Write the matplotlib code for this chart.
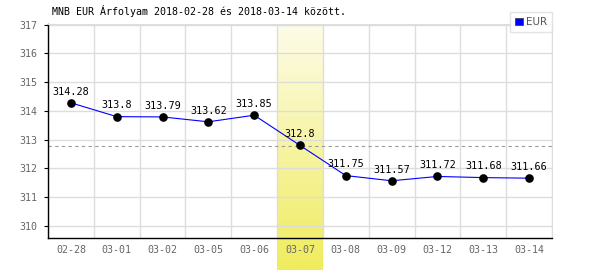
import matplotlib
matplotlib.use('Agg')
import matplotlib.pyplot as plt
import numpy as np
from matplotlib.colors import LinearSegmentedColormap

dates = ['02-28', '03-01', '03-02', '03-05', '03-06', '03-07',
         '03-08', '03-09', '03-12', '03-13', '03-14']
rates = [314.28, 313.8, 313.79, 313.62, 313.85, 312.8,
         311.75, 311.57, 311.72, 311.68, 311.66]
labels = ['314.28', '313.8', '313.79', '313.62', '313.85', '312.8',
          '311.75', '311.57', '311.72', '311.68', '311.66']
yticks = [310, 311, 312, 313, 314, 315, 316, 317]
highlight = 5

plt.rcParams['font.family'] = ['DejaVu Sans Mono']

fig = plt.figure(figsize=(6, 2.7), dpi=100)
ax = fig.add_axes([0.08, 0.1185, 0.84, 0.7925])
ax.set_facecolor('none')

ymin, ymax = 309.58, 317.02
x = np.arange(len(dates))

# yellow gradient band behind the highlighted day
grad = np.linspace(0, 1, 100).reshape(-1, 1)
cmap = LinearSegmentedColormap.from_list('y', ['#fdfce8', '#f0ec5e'])
ax.imshow(grad, cmap=cmap, aspect='auto', origin='upper',
          extent=(highlight - 0.5, highlight + 0.5, 308.45, ymax),
          clip_on=False, zorder=0)

ax.set_xlim(-0.5, len(dates) - 0.5)
ax.set_ylim(ymin, ymax)

for b in np.arange(-0.5, len(dates), 1.0):
    ax.axvline(b, color='#dddddd', lw=1, zorder=1)
for t in yticks:
    ax.axhline(t, color='#dddddd', lw=1, zorder=1)

avg = np.mean(rates)
ax.axhline(avg, color='#999999', lw=0.8, ls=(0, (3, 3)), zorder=2)

ax.plot(x, rates, color='#0000ff', lw=0.8, zorder=3)
ax.plot(x, rates, 'o', color='black', ms=5.2, zorder=4)
for xi, v, s in zip(x, rates, labels):
    ax.annotate(s, (xi, v), xytext=(0, 4.5), textcoords='offset points',
                ha='center', va='bottom', fontsize=7.3, color='black', zorder=5)

ax.set_xticks(x)
ax.set_xticklabels(dates)
ax.set_yticks(yticks)
ax.tick_params(axis='both', labelsize=7.2, colors='#666666', length=0, pad=5)
ax.tick_params(axis='y', length=3, color='black')

for side in ['left', 'bottom']:
    ax.spines[side].set_color('black')
    ax.spines[side].set_linewidth(1)
for side in ['top', 'right']:
    ax.spines[side].set_color('#dddddd')

fig.text(52 / 600, 1 - 15 / 270, 'MNB EUR Árfolyam 2018-02-28 és 2018-03-14 között.',
         fontsize=7.2, color='black', va='baseline', ha='left')

leg = ax.legend([plt.Rectangle((0, 0), 1, 1, fc='#0000ff', ec='#333333', lw=0.5)],
                ['EUR'], loc='upper right', bbox_to_anchor=(552 / 600, 1 - 12 / 270),
                bbox_transform=fig.transFigure, fontsize=7.5, frameon=True,
                fancybox=False, handlelength=0.7, handleheight=0.7,
                handletextpad=0.3, borderpad=0.5, borderaxespad=0)
leg.get_frame().set_edgecolor('#dddddd')
leg.get_frame().set_linewidth(1)
for t in leg.get_texts():
    t.set_color('#555555')
    t.set_fontfamily('DejaVu Sans')

fig.savefig('out.png', dpi=100)
